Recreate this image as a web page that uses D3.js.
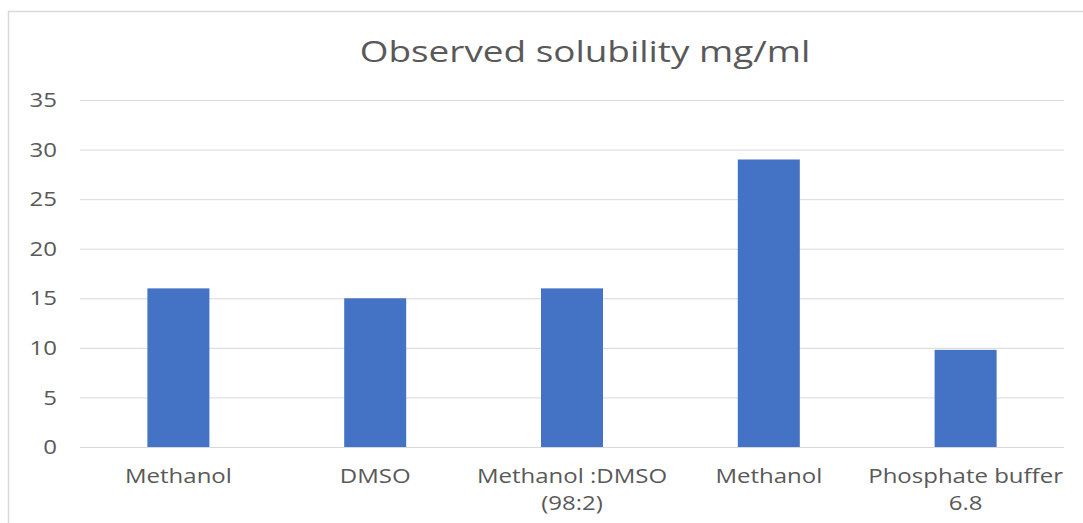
<!DOCTYPE html>
<html><head><meta charset="utf-8">
<script src="https://cdn.jsdelivr.net/npm/d3@7"></script>
<style>body{margin:0;background:#fff;}svg{display:block;font-family:"Open Sans",sans-serif;}</style>
</head><body>
<svg id="c" width="1083" height="523"></svg>
<script>
const categories = [["Methanol"],["DMSO"],["Methanol :DMSO","(98:2)"],["Methanol"],["Phosphate buffer","6.8"]];
const values = [16, 15, 16, 29, 9.8];
const yTicks = [0,5,10,15,20,25,30,35];
const title = "Observed solubility mg/ml";

(function(){
const svg = d3.select("#c");
svg.append("path").attr("d","M8.5,523 V11.5 H1083").attr("fill","none").attr("stroke","#d9d9d9").attr("stroke-width",1.5);

const pl=80, pr=1064, pt=100, pb=447;
const sx = 1.2;
const x = d3.scaleBand().domain(d3.range(categories.length)).range([pl,pr]).paddingInner(0.685).paddingOuter(0.3425);
const y = d3.scaleLinear().domain([0,35]).range([pb,pt]);

svg.append("g").attr("transform",`translate(585,62) scale(1.23,1)`)
  .append("text").attr("text-anchor","middle")
  .attr("font-size",30).attr("fill","#595959").text(title);

const ya = svg.append("g").attr("transform",`translate(${pl},0)`)
  .call(d3.axisLeft(y).tickValues(yTicks).tickSize(-(pr-pl)).tickFormat(""));
ya.select(".domain").remove();
ya.selectAll(".tick line").attr("stroke","#d9d9d9").attr("stroke-width",1);

svg.append("g").selectAll("g").data(yTicks).join("g")
  .attr("transform",d=>`translate(57,${y(d)}) scale(${sx},1)`)
  .append("text").attr("text-anchor","end").attr("dy","0.36em")
  .attr("font-size",20).attr("fill","#595959").text(d=>d);

svg.append("g").selectAll("rect").data(values).join("rect")
  .attr("x",(d,i)=>x(i)).attr("width",x.bandwidth())
  .attr("y",d=>y(d)).attr("height",d=>y(0)-y(d)).attr("fill","#4472c4");

const xl = svg.append("g").selectAll("g").data(categories).join("g")
  .attr("transform",(d,i)=>`translate(${x(i)+x.bandwidth()/2},483) scale(${sx},1)`);
xl.append("text").attr("text-anchor","middle").attr("font-size",20).attr("fill","#595959")
  .selectAll("tspan").data(d=>d).join("tspan")
  .attr("x",0).attr("dy",(d,i)=>i===0?0:27).text(d=>d);
})();
</script>
</body></html>
